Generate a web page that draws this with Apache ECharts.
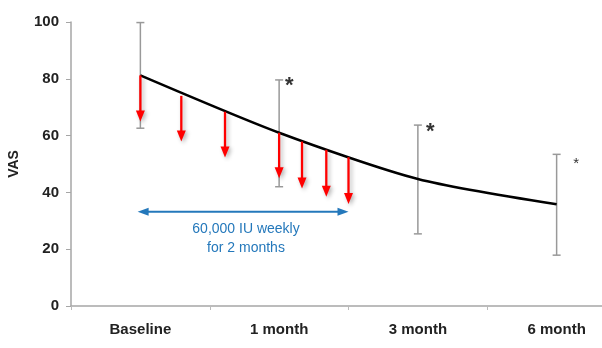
<!DOCTYPE html>
<html><head><meta charset="utf-8">
<script src="https://cdn.jsdelivr.net/npm/echarts@6/dist/echarts.min.js"></script>
<style>html,body{margin:0;padding:0;background:#fff}#c{width:602px;height:348px}</style>
</head><body><div id="c"></div>
<script>
const categories = ['Baseline', '1 month', '3 month', '6 month'];
const meanVAS = [81.2, 61, 44.7, 35.8];
const errLow = [62.6, 42, 25.4, 17.9];
const errHigh = [99.8, 79.6, 63.7, 53.4];
// red arrows: [x position (category units), start value, tip value]
const redArrows = [
  [0, 81.2, 65], [0.295, 74, 57.9], [0.61, 68.4, 52.3],
  [1, 61, 45], [1.165, 57.9, 41.4], [1.34, 55, 38.5], [1.5, 52.4, 35.9]
];
// blue treatment-period arrow: [x start, x end, value]
const treatArrow = [[-0.02, 1.5, 33.2]];
const treatText = '60,000 IU weekly\nfor 2 months';
// significance marks: [x, value, size]
const stars = [[1.074, 77.5, 22], [2.09, 61.3, 22], [3.14, 50, 15]];
const yTicks = [0, 20, 40, 60, 80, 100];

const chart = echarts.init(document.getElementById('c'));
const font = '"Liberation Sans", Arial, sans-serif';
chart.setOption({
  animation: false,
  grid: { left: 71, top: 22, width: 555, height: 284, containLabel: false, outerBoundsMode: 'none' },
  xAxis: [
    { type: 'category', data: categories, boundaryGap: true,
      axisLine: { lineStyle: { color: '#a6a6a6', width: 1.5 } },
      axisTick: { show: true, length: 4, lineStyle: { color: '#bbb' } },
      axisLabel: { color: '#222', fontWeight: 'bold', fontSize: 15, fontFamily: font, margin: 16 } },
    { type: 'value', min: -0.5, max: 3.5, show: false }
  ],
  yAxis: { type: 'value', min: yTicks[0], max: yTicks[yTicks.length-1], interval: 20,
    name: 'VAS', nameLocation: 'middle', nameGap: 50, nameRotate: 90,
    nameTextStyle: { color: '#222', fontWeight: 'bold', fontSize: 14, fontFamily: font },
    axisLine: { show: true, onZero: false, lineStyle: { color: '#a6a6a6', width: 1.5 } },
    axisTick: { show: true, length: 5, lineStyle: { color: '#a6a6a6' } },
    splitLine: { show: false },
    axisLabel: { color: '#222', fontWeight: 'bold', fontSize: 15, fontFamily: font, margin: 12 } },
  series: [
    { type: 'custom', xAxisIndex: 1, clip: false,
      data: categories.map((c, i) => [i, errLow[i], errHigh[i]]),
      renderItem: (p, api) => {
        const a = api.coord([api.value(0), api.value(2)]);
        const b = api.coord([api.value(0), api.value(1)]);
        const st = { stroke: '#999999', lineWidth: 1.5 };
        return { type: 'group', children: [
          { type: 'line', shape: { x1: a[0], y1: a[1], x2: b[0], y2: b[1] }, style: st },
          { type: 'line', shape: { x1: a[0]-4, y1: a[1], x2: a[0]+4, y2: a[1] }, style: st },
          { type: 'line', shape: { x1: b[0]-4, y1: b[1], x2: b[0]+4, y2: b[1] }, style: st }
        ]};
      } },
    { type: 'line', xAxisIndex: 1, smooth: 0.25, symbol: 'none',
      lineStyle: { color: '#000', width: 2.5 },
      data: meanVAS.map((v, i) => [i, v]), z: 3 },
    { type: 'custom', xAxisIndex: 1, clip: false, z: 4,
      data: redArrows,
      renderItem: (p, api) => {
        const a = api.coord([api.value(0), api.value(1)]);
        const b = api.coord([api.value(0), api.value(2)]);
        const sh = { shadowBlur: 4, shadowColor: 'rgba(0,0,0,0.3)', shadowOffsetX: 2, shadowOffsetY: 2 };
        return { type: 'group', children: [
          { type: 'line', shape: { x1: a[0], y1: a[1], x2: b[0], y2: b[1]-10 },
            style: Object.assign({ stroke: '#ff0000', lineWidth: 2.3 }, sh) },
          { type: 'polygon', shape: { points: [[b[0]-4.5, b[1]-11], [b[0]+4.5, b[1]-11], [b[0], b[1]]] },
            style: Object.assign({ fill: '#ff0000' }, sh) }
        ]};
      } },
    { type: 'custom', xAxisIndex: 1, clip: false, z: 4,
      data: treatArrow,
      renderItem: (p, api) => {
        const a = api.coord([api.value(0), api.value(2)]);
        const b = api.coord([api.value(1), api.value(2)]);
        const col = '#2478bb';
        const y = a[1];
        return { type: 'group', children: [
          { type: 'line', shape: { x1: a[0]+8, y1: y, x2: b[0]-8, y2: y }, style: { stroke: col, lineWidth: 2 } },
          { type: 'polygon', shape: { points: [[a[0], y], [a[0]+11, y-4], [a[0]+11, y+4]] }, style: { fill: col } },
          { type: 'polygon', shape: { points: [[b[0], y], [b[0]-11, y-4], [b[0]-11, y+4]] }, style: { fill: col } },
          { type: 'text', x: 246, y: y + 8,
            style: { text: treatText, fill: col, font: '14px ' + font, align: 'center', verticalAlign: 'top', lineHeight: 19 } }
        ]};
      } },
    { type: 'custom', xAxisIndex: 1, clip: false, z: 4,
      data: stars,
      renderItem: (p, api) => {
        const a = api.coord([api.value(0), api.value(1)]);
        const s = api.value(2);
        return { type: 'text', x: a[0], y: a[1],
          style: { text: '*', fill: '#333', font: (s > 18 ? 'bold ' : '') + s + 'px ' + font, align: 'center', verticalAlign: 'middle' } };
      } }
  ]
});
</script></body></html>
